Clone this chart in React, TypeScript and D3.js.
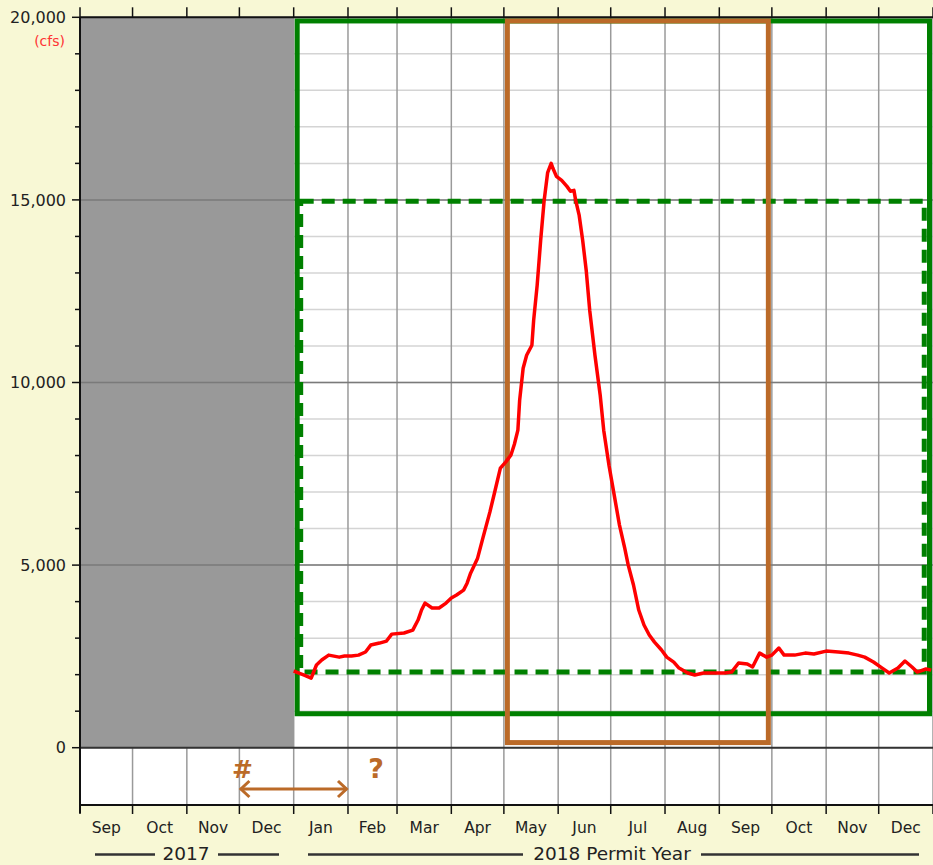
import React from "react";
import * as d3 from "d3";

const monthLabels = ["Sep", "Oct", "Nov", "Dec", "Jan", "Feb", "Mar", "Apr", "May", "Jun", "Jul", "Aug", "Sep", "Oct", "Nov", "Dec"];
const yTicks = [0, 5000, 10000, 15000, 20000];
const yLabels = ["0", "5,000", "10,000", "15,000", "20,000"];

const flowDates = [
  "2018-01-01", "2018-01-04", "2018-01-07", "2018-01-11", "2018-01-14", "2018-01-17", "2018-01-21", "2018-01-27", "2018-01-30",
  "2018-02-03", "2018-02-07", "2018-02-11", "2018-02-14", "2018-02-19", "2018-02-23", "2018-02-26",
  "2018-03-05", "2018-03-10", "2018-03-13", "2018-03-15", "2018-03-17", "2018-03-21", "2018-03-25", "2018-03-29",
  "2018-04-01", "2018-04-04", "2018-04-08", "2018-04-10", "2018-04-12", "2018-04-16", "2018-04-19", "2018-04-23", "2018-04-26", "2018-04-29",
  "2018-05-02", "2018-05-05", "2018-05-07", "2018-05-09", "2018-05-10", "2018-05-12", "2018-05-14", "2018-05-17", "2018-05-18", "2018-05-20",
  "2018-05-22", "2018-05-24", "2018-05-26", "2018-05-28", "2018-05-29", "2018-05-31",
  "2018-06-03", "2018-06-06", "2018-06-08", "2018-06-10", "2018-06-11", "2018-06-13", "2018-06-15", "2018-06-17", "2018-06-19", "2018-06-22",
  "2018-06-25", "2018-06-27", "2018-06-30",
  "2018-07-03", "2018-07-06", "2018-07-09", "2018-07-11", "2018-07-14", "2018-07-17", "2018-07-20", "2018-07-23", "2018-07-26", "2018-07-30",
  "2018-08-02", "2018-08-06", "2018-08-09", "2018-08-14", "2018-08-18", "2018-08-23", "2018-08-29",
  "2018-09-04", "2018-09-08", "2018-09-12", "2018-09-17", "2018-09-20", "2018-09-22", "2018-09-24", "2018-09-28",
  "2018-10-01", "2018-10-05", "2018-10-08", "2018-10-14", "2018-10-20", "2018-10-25",
  "2018-11-01", "2018-11-08", "2018-11-14", "2018-11-19", "2018-11-23", "2018-11-28",
  "2018-12-03", "2018-12-07", "2018-12-12", "2018-12-16", "2018-12-20", "2018-12-23", "2018-12-28", "2018-12-31",
];
const flowValues = [
  2100, 2045, 1990, 1905, 2265, 2400, 2535, 2480, 2510,
  2510, 2535, 2620, 2810, 2865, 2920, 3110,
  3140, 3220, 3495, 3770, 3960, 3825, 3825, 3960,
  4100, 4180, 4315, 4505, 4780, 5190, 5740, 6450, 7050, 7655,
  7820, 8010, 8310, 8695, 9510, 10390, 10745, 11020, 11700, 12660,
  13890, 14985, 15750, 16000, 15865, 15645,
  15535, 15370, 15235, 15260, 14985, 14575, 13890, 13075, 11980, 10745,
  9650, 8695, 7735,
  6915, 6095, 5465, 5000, 4455, 3770, 3360, 3085, 2890, 2675,
  2480, 2345, 2180, 2045, 1990, 2045, 2045,
  2045, 2070, 2320, 2290, 2210, 2400, 2590, 2480,
  2535, 2730, 2535, 2535, 2590, 2565,
  2645, 2620, 2590, 2535, 2480, 2345,
  2180, 2045, 2180, 2375, 2210, 2070, 2155, 2125,
];

// Boxes: [start, end, low, high]
const noDataBox = ["2017-09-01", "2018-01-01", 0, 20000];
const permitBox = ["2018-01-03", "2018-12-30", 930, 19900];
const targetBox = ["2018-01-05", "2018-12-27", 2070, 14960];
const seasonBox = ["2018-05-03", "2018-09-29", 140, 19900];
const arrowSpan = ["2017-12-01", "2018-02-01"];
const questionDate = "2018-02-17";

const parse = (s: string) => {
  const [y, m, d] = s.split("-").map(Number);
  return new Date(y, m - 1, d);
};

const W = 933;
const H = 865;
const left = 80;
const right = 933;
const top = 17.3;
const zeroY = 747.7;
const bandBottom = 805;

const BG = "#f8f8d5";
const GREEN = "#008000";
const BROWN = "#bb6a28";
const FONT = "DejaVu Sans, Verdana, sans-serif";
const TXT = "#222";

export default function App() {
  const x = d3.scaleTime().domain([parse("2017-09-01"), parse("2019-01-01")]).range([left, right]);
  const y = d3.scaleLinear().domain([0, 20000]).range([zeroY, top]);
  const months = d3.timeMonth.range(parse("2017-09-01"), parse("2019-01-02"));
  const minorY = d3.range(0, 20001, 1000);
  const line = d3
    .line<number>()
    .x((_, i) => x(parse(flowDates[i])))
    .y((v) => y(v))
    .curve(d3.curveLinear);

  const boxRect = (b: any[]) => {
    const x0 = x(parse(b[0] as string));
    const x1 = x(parse(b[1] as string));
    const y0 = y(b[3] as number);
    const y1 = y(b[2] as number);
    return { x: x0, y: y0, width: x1 - x0, height: y1 - y0 };
  };

  const ax0 = x(parse(arrowSpan[0]));
  const ax1 = x(parse(arrowSpan[1]));
  const ay = 789;

  return (
    <svg width={W} height={H} style={{ position: "absolute", left: 0, top: 0, display: "block" }} fontFamily={FONT}>
      <rect x={0} y={0} width={W} height={H} fill={BG} />
      {/* plot background */}
      <rect x={left} y={top} width={right - left} height={bandBottom - top} fill="#ffffff" />
      {/* minor horizontal grid */}
      {minorY.map((v) => (
        <line key={"mg" + v} x1={left} x2={right} y1={y(v)} y2={y(v)} stroke="#d4d4d4" strokeWidth={1.5} />
      ))}
      {/* vertical month grid */}
      {months.map((m, i) => (
        <line key={"vg" + i} x1={x(m)} x2={x(m)} y1={top} y2={bandBottom} stroke="#9a9a9a" strokeWidth={1.5} />
      ))}
      {/* no-data gray */}
      <rect {...boxRect(noDataBox)} fill="#999999" />
      {/* major horizontal grid */}
      {yTicks.slice(1, 4).map((v) => (
        <line key={"MG" + v} x1={left} x2={right} y1={y(v)} y2={y(v)} stroke="#7a7a7a" strokeWidth={1.5} />
      ))}
      {/* zero line */}
      <line x1={left} x2={right} y1={y(0)} y2={y(0)} stroke="#333" strokeWidth={2} />
      {/* boxes */}
      <rect {...boxRect(permitBox)} fill="none" stroke={GREEN} strokeWidth={5} />
      <rect {...boxRect(targetBox)} fill="none" stroke={GREEN} strokeWidth={5} strokeDasharray="13 8" />
      <rect {...boxRect(seasonBox)} fill="none" stroke={BROWN} strokeWidth={5} />
      {/* flow line */}
      <path d={line(flowValues) || ""} fill="none" stroke="#ff0000" strokeWidth={3.5} strokeLinejoin="round" />
      {/* axes */}
      <line x1={left} x2={right} y1={top} y2={top} stroke="#111" strokeWidth={2} />
      <line x1={left} x2={right} y1={bandBottom} y2={bandBottom} stroke="#111" strokeWidth={2} />
      <line x1={left} x2={left} y1={top} y2={bandBottom + 8} stroke="#111" strokeWidth={2} />
      {months.map((m, i) => (
        <g key={"tk" + i}>
          <line x1={x(m)} x2={x(m)} y1={top} y2={top - 10} stroke="#111" strokeWidth={1.5} />
          <line x1={x(m)} x2={x(m)} y1={bandBottom} y2={bandBottom + 9} stroke="#111" strokeWidth={1.5} />
        </g>
      ))}
      {minorY.map((v) => (
        <line key={"yt" + v} x1={v % 5000 === 0 ? left - 8 : left - 5} x2={left} y1={y(v)} y2={y(v)} stroke="#111" strokeWidth={1.5} />
      ))}
      {yTicks.map((v, i) => (
        <text key={"yl" + v} x={66} y={y(v)} dy="0.36em" textAnchor="end" fontSize={16} fill={TXT}>
          {yLabels[i]}
        </text>
      ))}
      <text x={65} y={46} textAnchor="end" fontSize={14} fill="#ff3333">
        (cfs)
      </text>
      {/* month labels */}
      {months.slice(0, 16).map((m, i) => {
        const next = months[i + 1];
        const cx = (x(m) + x(next)) / 2;
        return (
          <text key={"ml" + i} x={cx} y={833} textAnchor="middle" fontSize={15.5} fill={TXT}>
            {monthLabels[i]}
          </text>
        );
      })}
      {/* year labels */}
      <line x1={95} x2={155} y1={854.5} y2={854.5} stroke="#333" strokeWidth={2.5} />
      <text x={186} y={860} textAnchor="middle" fontSize={18.5} fill={TXT}>2017</text>
      <line x1={218} x2={279} y1={854.5} y2={854.5} stroke="#333" strokeWidth={2.5} />
      <line x1={308} x2={523} y1={854.5} y2={854.5} stroke="#333" strokeWidth={2.5} />
      <text x={612} y={860} textAnchor="middle" fontSize={18.5} fill={TXT}>2018 Permit Year</text>
      <line x1={701} x2={919} y1={854.5} y2={854.5} stroke="#333" strokeWidth={2.5} />
      {/* annotation */}
      <text x={ax0 + 3} y={778} textAnchor="middle" fontSize={25} fontWeight="bold" fill={BROWN}>#</text>
      <text x={x(parse(questionDate))} y={778} textAnchor="middle" fontSize={27} fontWeight="bold" fill={BROWN}>?</text>
      <line x1={ax0 + 1} x2={ax1 - 1} y1={ay} y2={ay} stroke={BROWN} strokeWidth={3} />
      <path d={`M${ax0 + 10},${ay - 8} L${ax0 + 1.5},${ay} L${ax0 + 10},${ay + 8}`} fill="none" stroke={BROWN} strokeWidth={3} />
      <path d={`M${ax1 - 10},${ay - 8} L${ax1 - 1.5},${ay} L${ax1 - 10},${ay + 8}`} fill="none" stroke={BROWN} strokeWidth={3} />
    </svg>
  );
}
